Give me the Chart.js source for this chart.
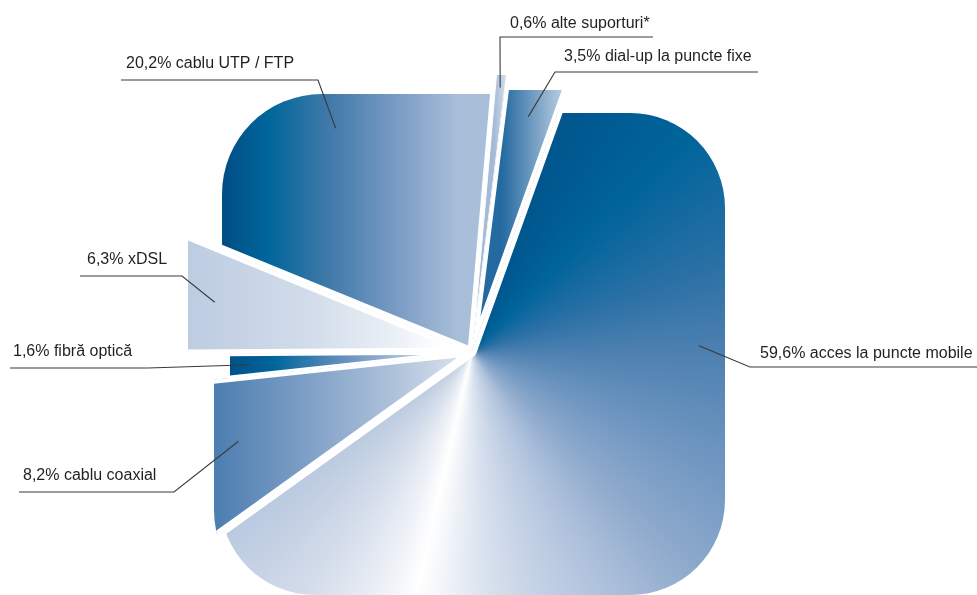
<!DOCTYPE html>
<html>
<head>
<meta charset="utf-8">
<script src="https://cdn.jsdelivr.net/npm/chart.js@4"></script>
<style>
  html, body { margin: 0; padding: 0; background: #fff; }
  #wrap { position: relative; width: 977px; height: 595px; }
</style>
</head>
<body>
<div id="wrap"><canvas id="pieChart"></canvas></div>
<script>
// data, clockwise from the top
const categories = ['alte suporturi*', 'dial-up la puncte fixe', 'acces la puncte mobile',
  'cablu coaxial', 'fibră optică', 'xDSL', 'cablu UTP / FTP'];
const shares = [0.6, 3.5, 59.6, 8.2, 1.6, 6.3, 20.2];

// outer shape of each slice: rounded box around the pie centre [left, top, right, bottom, corner]
const sliceBoxes = [
  [277, 277, 277, 277, 100],
  [262, 262, 262, 262, 100],
  [252, 239, 253, 243, 95],
  [258, 258, 258, 258, 100],
  [242, 242, 242, 242, 100],
  [284, 284, 284, 284, 100],
  [250, 258, 250, 250, 100]
];
const gapWidths = [0.8, 4, 4.5, 4, 2.5, 4.5, 4.5];

// horizontal gradients (x relative to the centre), the big slice uses a conic one
const sliceFills = [
  { dx: [22, 38], stops: [[0, '#a4bad7'], [1, '#e4eaf3']] },
  { dx: [30, 96], stops: [[0, '#246aa1'], [1, '#c8d4e6']] },
  null,
  { dx: [-262, -2], stops: [[0, '#4a7caf'], [0.35, '#7b9dc5'], [0.7, '#aec1da'], [1, '#dde5f0']] },
  { dx: [-244, -10], stops: [[0, '#00508a'], [0.2, '#00669b'], [0.5, '#6890bd'], [0.8, '#b8c8df'], [1, '#e8edf5']] },
  { dx: [-284, -30], stops: [[0, '#bdcce1'], [0.5, '#d3ddeb'], [0.85, '#eef2f8'], [1, '#ffffff']] },
  { dx: [-250, -15], stops: [[0, '#004d85'], [0.2, '#00669b'], [0.45, '#3f79a9'], [0.75, '#7b9cc4'], [1, '#a8bed9']] }
];
const mobileStops = [
  [0, '#00568d'], [22, '#00568d'], [45, '#00649b'], [70, '#2a70a5'], [90, '#4d80b0'],
  [115, '#7097c1'], [135, '#8eaacc'], [150, '#adc0db'], [175, '#d6dfed'], [193, '#ffffff'],
  [200, '#eef1f7'], [215, '#d3dcea'], [235, '#b8c8df'], [360, '#b8c8df']
];

// label layout: text pos, underline y and x range, elbow end, anchor inside the slice
const labelLayout = [
  { tx: 510, ty: 28, ly: 37, x0: 500, x1: 653, elbow: 500, frac: 0.5, dist: 266 },
  { tx: 564, ty: 61, ly: 72, x0: 555, x1: 758, elbow: 555, frac: 0.5, dist: 242 },
  { tx: 760, ty: 358, ly: 367, x0: 750, x1: 977, elbow: 750, frac: 0.32, dist: 227 },
  { tx: 23, ty: 480, ly: 492, x0: 19, x1: 174, elbow: 174, frac: 0.5, dist: 250 },
  { tx: 13, ty: 356, ly: 368, x0: 10, x1: 148, elbow: 148, frac: 0.5, dist: 222 },
  { tx: 87, ty: 264, ly: 276, x0: 80, x1: 182, elbow: 182, frac: 0.5, dist: 262 },
  { tx: 126, ty: 68, ly: 80, x0: 121, x1: 318, elbow: 318, frac: 0.5, dist: 262 }
];

function labelText(i) {
  return shares[i].toFixed(1).replace('.', ',') + '% ' + categories[i];
}

function sliceFill(c) {
  const chart = c.chart, area = chart.chartArea;
  if (!area) return '#6f93bf';
  const cx = (area.left + area.right) / 2, cy = (area.top + area.bottom) / 2;
  let g;
  const f = sliceFills[c.dataIndex];
  if (!f) {
    g = chart.ctx.createConicGradient(-Math.PI / 2, cx, cy);
    mobileStops.forEach(s => g.addColorStop(s[0] / 360, s[1]));
  } else {
    g = chart.ctx.createLinearGradient(cx + f.dx[0], 0, cx + f.dx[1], 0);
    f.stops.forEach(s => g.addColorStop(s[0], s[1]));
  }
  return g;
}

function roundBox(ctx, x, y, w, h, r) {
  ctx.beginPath();
  ctx.moveTo(x + r, y);
  ctx.arcTo(x + w, y, x + w, y + h, r);
  ctx.arcTo(x + w, y + h, x, y + h, r);
  ctx.arcTo(x, y + h, x, y, r);
  ctx.arcTo(x, y, x + w, y, r);
  ctx.closePath();
}

// clip every arc to its rounded box before the library draws it
const sliceShape = {
  id: 'sliceShape',
  beforeDatasetDraw(chart, args) {
    const ctx = chart.ctx;
    args.meta.data.forEach((arc, i) => {
      const b = sliceBoxes[i];
      ctx.save();
      roundBox(ctx, arc.x - b[0], arc.y - b[1], b[0] + b[2], b[1] + b[3], b[4]);
      ctx.clip();
      arc.draw(ctx);
      ctx.restore();
    });
    return false;
  }
};

const leaderLabels = {
  id: 'leaderLabels',
  afterDraw(chart) {
    const ctx = chart.ctx;
    const arcs = chart.getDatasetMeta(0).data;
    ctx.save();
    ctx.font = '16px "Liberation Sans", Arial, sans-serif';
    ctx.fillStyle = '#231f20';
    ctx.strokeStyle = '#3a3a3a';
    ctx.lineWidth = 1.1;
    arcs.forEach((arc, i) => {
      const L = labelLayout[i];
      const a = arc.startAngle + L.frac * (arc.endAngle - arc.startAngle);
      const px = arc.x + Math.cos(a) * L.dist;
      const py = arc.y + Math.sin(a) * L.dist;
      ctx.fillText(labelText(i), L.tx, L.ty);
      const far = L.elbow === L.x0 ? L.x1 : L.x0;
      ctx.beginPath();
      ctx.moveTo(far, L.ly);
      ctx.lineTo(L.elbow, L.ly);
      ctx.lineTo(px, py);
      ctx.stroke();
    });
    ctx.restore();
  }
};

new Chart(document.getElementById('pieChart'), {
  type: 'pie',
  data: {
    labels: categories,
    datasets: [{
      data: shares,
      backgroundColor: sliceFill,
      borderColor: '#ffffff',
      borderWidth: gapWidths,
      borderAlign: 'inner',
      clip: false
    }]
  },
  options: {
    responsive: true,
    maintainAspectRatio: false,
    animation: false,
    events: [],
    rotation: 5,
    radius: '170%',
    layout: { padding: { left: 0, right: 33, top: 109, bottom: 0 } },
    plugins: { legend: { display: false }, tooltip: { enabled: false } }
  },
  plugins: [sliceShape, leaderLabels]
});
</script>
</body>
</html>
